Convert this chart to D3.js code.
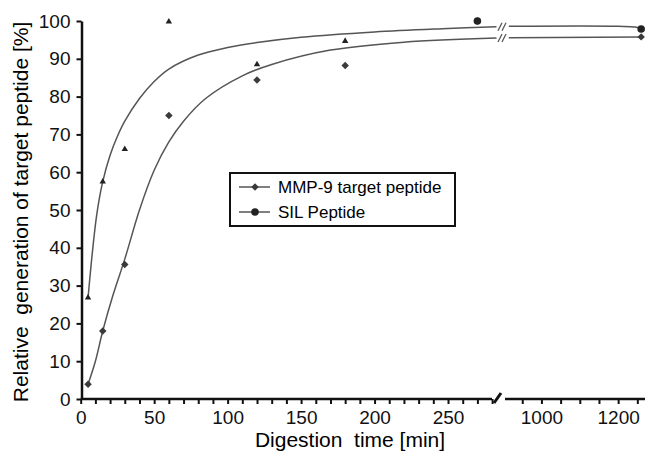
<!DOCTYPE html>
<html>
<head>
<meta charset="utf-8">
<script src="https://cdn.jsdelivr.net/npm/d3@7"></script>
<style>
  body { margin: 0; background: #fff; }
  svg { font-family: "Liberation Sans", Arial, sans-serif; }
  .axis path, .axis line { stroke: #111; }
  .axis text { font-size: 19px; fill: #111; }
  .fit { fill: none; stroke: #555; stroke-width: 1.5; }
</style>
</head>
<body>
<script>
// Basic props
let w = 649, h = 453;

// Data
let times = [5, 15, 30, 60, 120, 180, 270, 1260];
let mmp9Values = [3.9, 18.0, 35.6, 75.0, 84.4, 88.2, 100, 95.8];
let silValues = [26.8, 57.5, 66.1, 99.8, 88.5, 94.7, 100, 97.9];

// fitted curves (time, %), left and right of the axis break
let mmp9FitLeft = [[5,3.9],[10,10],[15,18],[22,27.5],[30,37],[40,50],[50,60.5],[60,68],[70,73.5],[85,79.5],[110,85.5],[130,88.5],[170,92.3],[220,94.4],[283,95.5]];
let mmp9FitRight = [[915,95.6],[1260,95.8]];
let silFitLeft = [[5,26.8],[8,39],[11,49],[15,57.5],[20,64.5],[25,69.5],[30,73.5],[40,79.5],[50,84],[60,87.3],[80,91],[100,93],[120,94.3],[150,95.7],[200,97.1],[250,98],[283,98.5]];
let silFitRight = [[915,98.6],[1200,98.6],[1245,98.4],[1260,97.9]];

let yTicks = d3.range(0, 101, 10);
let xTicksLeft = d3.range(0, 281, 10);
let xTicksRight = d3.range(950, 1251, 50);
let legendLabels = ["MMP-9 target peptide", "SIL Peptide"];

// Scales (broken x axis)
let xL = d3.scaleLinear().domain([0, 283]).range([80.7, 496.5]);
let xR = d3.scaleLinear().domain([905, 1270]).range([505, 645]);
let x = v => v <= 283 ? xL(v) : xR(v);
let y = d3.scaleLinear().domain([0, 100]).range([399, 21]);

let svg = d3.select("body")
  .append("svg")
  .attr("width", w)
  .attr("height", h);

// Axes
let xAxisL = d3.axisBottom(xL)
  .tickValues(xTicksLeft)
  .tickFormat(d => d % 50 === 0 ? d : "")
  .tickSizeInner(5).tickSizeOuter(0).tickPadding(7);
let xAxisR = d3.axisBottom(xR)
  .tickValues(xTicksRight)
  .tickFormat(d => d % 200 === 0 ? d : "")
  .tickSizeInner(5).tickSizeOuter(0).tickPadding(7);
let yAxis = d3.axisLeft(y)
  .tickValues(yTicks)
  .tickSizeInner(5).tickSizeOuter(0).tickPadding(6);

let gxL = svg.append("g").attr("class", "axis")
  .attr("transform", "translate(0,399)").call(xAxisL);
gxL.select(".domain").attr("d", "M80.7,0H492");
let gxR = svg.append("g").attr("class", "axis")
  .attr("transform", "translate(0,399)").call(xAxisR);
gxR.select(".domain").attr("d", "M505,0H645");
let gy = svg.append("g").attr("class", "axis")
  .attr("transform", "translate(81.5,0)").call(yAxis);

svg.selectAll(".axis .domain").attr("stroke-width", 2.5);
svg.selectAll(".axis .tick line").attr("stroke-width", 2);

// axis break slash
svg.append("line")
  .attr("x1", 494).attr("y1", 403).attr("x2", 501).attr("y2", 393)
  .attr("stroke", "#111").attr("stroke-width", 3);

// Titles
svg.append("text")
  .attr("x", 350).attr("y", 447)
  .attr("text-anchor", "middle")
  .style("font-size", "21px")
  .attr("xml:space", "preserve")
  .text("Digestion  time [min]");

svg.append("text")
  .attr("transform", "translate(28,212) rotate(-90)")
  .attr("text-anchor", "middle")
  .style("font-size", "21px")
  .attr("xml:space", "preserve")
  .text("Relative  generation of target peptide [%]");

// Fitted curves
let line = d3.line()
  .x(d => x(d[0]))
  .y(d => y(d[1]))
  .curve(d3.curveCatmullRom.alpha(0.5));

[mmp9FitLeft, mmp9FitRight, silFitLeft, silFitRight].forEach(fit => {
  svg.append("path").datum(fit).attr("class", "fit").attr("d", line);
});

// break marks on the curves
[mmp9FitLeft, silFitLeft].forEach(fit => {
  let yy = y(fit[fit.length - 1][1]);
  [500, 504].forEach(bx => {
    svg.append("line")
      .attr("x1", bx - 2).attr("y1", yy + 4)
      .attr("x2", bx + 2).attr("y2", yy - 4)
      .attr("stroke", "#555").attr("stroke-width", 1.3);
  });
});

// Markers
let diamond = d3.symbol().type(d3.symbolSquare).size(28);
let triangle = d3.symbol().type(d3.symbolTriangle).size(18);
let circle = d3.symbol().type(d3.symbolCircle).size(45);

svg.selectAll(".mmp9")
  .data(times.map((t, i) => [t, mmp9Values[i]]))
  .join("path")
  .attr("class", "mmp9")
  .attr("transform", d => "translate(" + x(d[0]) + "," + y(d[1]) + ") rotate(45)")
  .attr("d", diamond)
  .attr("fill", "#3a3a3a");

svg.selectAll(".sil")
  .data(times.map((t, i) => [t, silValues[i]]))
  .join("path")
  .attr("class", "sil")
  .attr("transform", d => "translate(" + x(d[0]) + "," + y(d[1]) + ")")
  .attr("d", d => d[0] > 200 ? circle() : triangle())
  .attr("fill", "#222");

// Legend
let lg = svg.append("g");
lg.append("rect")
  .attr("x", 230).attr("y", 173).attr("width", 225).attr("height", 53)
  .attr("fill", "#fff").attr("stroke", "#111").attr("stroke-width", 2);

legendLabels.forEach((lab, i) => {
  let ly = 187 + i * 25;
  lg.append("line")
    .attr("x1", 239).attr("x2", 270).attr("y1", ly).attr("y2", ly)
    .attr("stroke", "#555").attr("stroke-width", 1.5);
  lg.append("path")
    .attr("transform", "translate(255," + ly + ")" + (i === 0 ? " rotate(45)" : ""))
    .attr("d", i === 0 ? diamond() : circle())
    .attr("fill", i === 0 ? "#3a3a3a" : "#222");
  lg.append("text")
    .attr("x", 278).attr("y", ly + 6)
    .style("font-size", "17px")
    .text(lab);
});
</script>
</body>
</html>
